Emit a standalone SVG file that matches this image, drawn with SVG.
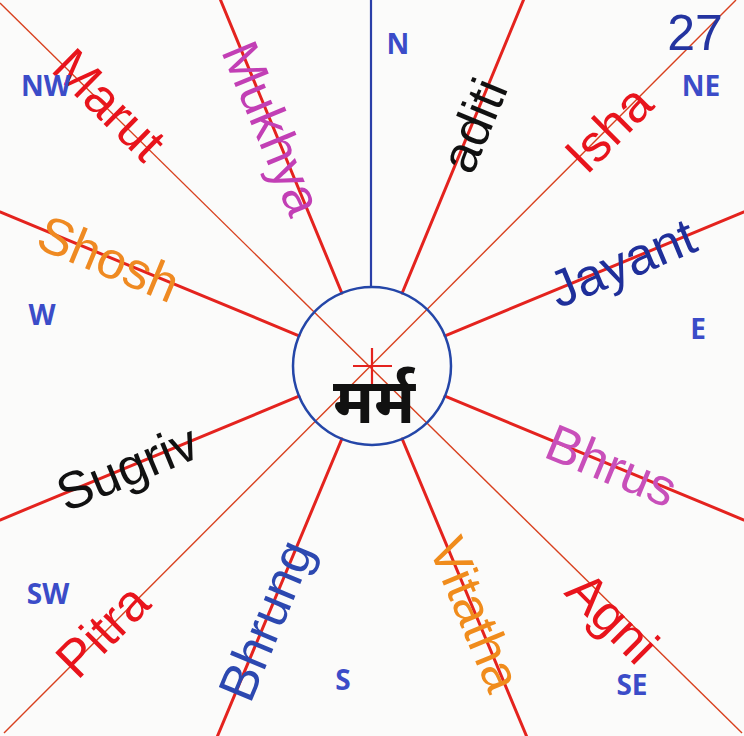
<svg xmlns="http://www.w3.org/2000/svg" width="744" height="736" viewBox="0 0 744 736">
<style>
.thick{stroke:#e4231e;stroke-width:3;fill:none;stroke-linecap:round}
.thin{stroke:#d8401e;stroke-width:1.4;fill:none}
.lbl{font-family:"Liberation Sans",Arial,sans-serif;font-size:52px;text-anchor:middle}
.dir{font-family:"Open Sans","Noto Sans",sans-serif;font-weight:bold;font-size:28px;fill:#3b4cc8;text-anchor:middle}
</style>
<rect width="744" height="736" fill="#fbfbfa"/>
<g id="connectors">
<line class="thin" x1="0" y1="3" x2="742" y2="733"/>
<line class="thin" x1="736" y1="0" x2="4" y2="733"/>
<line x1="371" y1="0" x2="371" y2="287" stroke="#2a3fa8" stroke-width="2.2"/>
<line class="thick" x1="341.8" y1="293" x2="220.5" y2="0"/>
<line class="thick" x1="402.2" y1="293" x2="523.5" y2="0"/>
<line class="thick" x1="445" y1="335.8" x2="744" y2="212"/>
<line class="thick" x1="445" y1="396.2" x2="744" y2="520"/>
<line class="thick" x1="402.2" y1="439" x2="526.5" y2="736"/>
<line class="thick" x1="341.8" y1="439" x2="217.5" y2="736"/>
<line class="thick" x1="299" y1="396.2" x2="0" y2="520"/>
<line class="thick" x1="299" y1="335.8" x2="0" y2="212"/>
<line x1="353" y1="366" x2="392" y2="366" stroke="#e4231e" stroke-width="2.2"/>
<line x1="372" y1="348" x2="372" y2="384" stroke="#e4231e" stroke-width="2.2"/>
</g>
<g id="center">
<circle cx="372" cy="366" r="79" fill="none" stroke="#2446a8" stroke-width="2.5"/>
<text x="374" y="423" font-family="'Noto Sans Devanagari','Lohit Devanagari','FreeSans',sans-serif" font-size="63" font-weight="bold" text-anchor="middle" fill="#111">मर्म</text>
</g>
<g id="labels">
<text class="lbl" fill="#e8141c" transform="translate(110,104) rotate(44.7)" dy="0.36em">Marut</text>
<text class="lbl" fill="#c23fb5" transform="translate(273,128) rotate(67.5)" dy="0.36em">Mukhya</text>
<text class="lbl" fill="#111" transform="translate(473,125) rotate(-67.5)" dy="0.36em">aditi</text>
<text class="lbl" fill="#e8141c" transform="translate(608,128) rotate(-45)" dy="0.36em">Isha</text>
<text class="lbl" fill="#1f2f9a" transform="translate(622,262) rotate(-22.5)" dy="0.36em">Jayant</text>
<text class="lbl" fill="#ef8a22" transform="translate(109,258) rotate(22.5)" dy="0.36em">Shosh</text>
<text class="lbl" fill="#111" transform="translate(127,467) rotate(-22.5)" dy="0.36em">Sugriv</text>
<text class="lbl" fill="#e8141c" transform="translate(102,630) rotate(-45)" dy="0.36em">Pitra</text>
<text class="lbl" fill="#2c48b0" transform="translate(265,620) rotate(-67.5)" dy="0.36em">Bhrung</text>
<text class="lbl" fill="#f08c1c" transform="translate(476,614) rotate(67.5)" dy="0.36em">Vitatha</text>
<text class="lbl" fill="#e8141c" transform="translate(613,617) rotate(45)" dy="0.36em">Agni</text>
<text class="lbl" fill="#c84fba" transform="translate(612,465) rotate(22.5)" dy="0.36em">Bhrus</text>
</g>
<g id="directions">
<text class="dir" x="46" y="96">NW</text>
<text class="dir" x="398" y="54">N</text>
<text class="dir" x="701" y="96">NE</text>
<text class="dir" x="42" y="325">W</text>
<text class="dir" x="698" y="339">E</text>
<text class="dir" x="48" y="604">SW</text>
<text class="dir" x="343" y="690">S</text>
<text class="dir" x="632" y="695">SE</text>
<text x="695" y="50" font-family="'Liberation Sans',Arial,sans-serif" font-size="50" fill="#2434a0" text-anchor="middle">27</text>
</g>
</svg>
